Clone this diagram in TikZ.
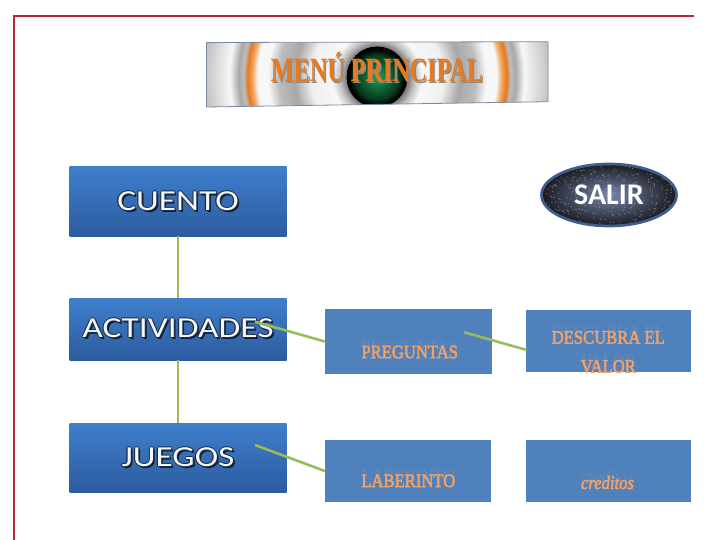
\documentclass[tikz,border=0pt]{standalone}
\usepackage{fontspec}
\usepackage{graphicx}
\usetikzlibrary{shapes.geometric,calc}
\setmainfont{Liberation Serif}
\newfontfamily\boxfont{Carlito}
\newfontfamily\orfont{Liberation Serif}

\definecolor{frameRed}{HTML}{B42A33}
\definecolor{linkGreen}{HTML}{9BBB59}
\definecolor{boxTop}{HTML}{3F7ECC}
\definecolor{boxBot}{HTML}{2C5C9F}
\definecolor{flatBlue}{HTML}{4F81BD}
\definecolor{orangeTxt}{HTML}{F2A168}
\definecolor{ghostTxt}{HTML}{6D87AC}
\definecolor{glowC}{HTML}{F2F7FC}
\definecolor{outlC}{HTML}{1C2B40}
\definecolor{shadowC}{HTML}{14202F}
\definecolor{menuOrange}{HTML}{E8791F}
\definecolor{menuShadow}{HTML}{8C8C8C}
\definecolor{bannerEdge}{HTML}{7A8AA5}
\definecolor{salirEdge}{HTML}{3E5F8E}
\definecolor{salirIn}{HTML}{7686AC}
\definecolor{salirOut}{HTML}{1A1A1F}
\definecolor{speckC}{HTML}{9A9AA0}
\definecolor{rgW}{gray}{0.97}
\definecolor{rgWb}{gray}{0.94}
\definecolor{rgS}{gray}{0.5}
\definecolor{rgT}{gray}{0.75}
\definecolor{rgG}{gray}{0.66}
\definecolor{rgH}{gray}{0.74}
\definecolor{rgE}{gray}{0.64}
\definecolor{ringLt}{HTML}{F2A862}
\definecolor{ringOr}{HTML}{E8781E}
\definecolor{sphA}{HTML}{26A555}
\definecolor{sphB}{HTML}{10703A}
\definecolor{sphC}{HTML}{073A1C}

% radii in bp = picture pixels
\pgfdeclareradialshading{bannerrings}{\pgfpoint{0bp}{0bp}}{%
color(0bp)=(rgW); color(29bp)=(rgS); color(31bp)=(rgS); color(37bp)=(rgT);
color(45bp)=(rgW); color(66bp)=(rgWb); color(82bp)=(rgG); color(98bp)=(rgH);
color(109bp)=(rgW); color(119bp)=(rgW); color(124bp)=(ringLt); color(129bp)=(ringOr);
color(133bp)=(rgH); color(138bp)=(rgG); color(147bp)=(rgW); color(174bp)=(rgH);
color(210bp)=(rgE)}
\pgfdeclareradialshading{spherefill}{\pgfpoint{0bp}{0bp}}{%
color(0bp)=(sphA); color(10bp)=(sphB); color(22bp)=(sphC); color(28bp)=(black);
color(31bp)=(black)}

% white letters with a dark outline and a drop shadow
\newcommand\glowtext[1]{\scalebox{1.22}[1]{\leavevmode
 \rlap{\kern1.5pt\raisebox{-1.8pt}{\textcolor{shadowC}{#1}}}%
 \rlap{\kern0.9pt\textcolor{outlC}{#1}}%
 \rlap{\kern-0.9pt\textcolor{outlC}{#1}}%
 \rlap{\raisebox{0.9pt}{\textcolor{outlC}{#1}}}%
 \rlap{\raisebox{-0.9pt}{\textcolor{outlC}{#1}}}%
 \textcolor{glowC}{#1}}}
% orange text, slightly emboldened, with its faint ghost above it
\newcommand\ortext[1]{\scalebox{0.875}[1]{\leavevmode
  \rlap{\raisebox{5pt}{\textcolor{ghostTxt}{#1}}}%
  \textcolor{orangeTxt}{\special{pdf:literal direct 2 Tr 0.5 w 0.949 0.631 0.408 RG}#1\special{pdf:literal direct 0 Tr}}}}

\tikzset{
  frameline/.style={draw=frameRed, line width=1.5pt},
  link/.style={draw=linkGreen, line width=2.6pt},
  leftbox/.style={rectangle, inner sep=0pt, top color=boxTop, bottom color=boxBot,
     minimum width=217pt, font=\boxfont\fontsize{29pt}{35pt}\selectfont},
  flatbox/.style={rectangle, inner sep=0pt, fill=flatBlue, minimum width=166pt, minimum height=63pt},
  ortxt/.style={inner sep=0pt, font=\orfont\fontsize{19pt}{29pt}\selectfont, align=center},
}

\begin{document}
\begin{tikzpicture}[x=1pt,y=-1pt]
\useasboundingbox (0,0) rectangle (720,540);
\fill[white] (0,0) rectangle (720,540);

% frame
\draw[frameline] (694,16) -- (14,16) -- (14,540);

% banner
\begin{scope}
  \clip (206.5,42.5) -- (548,41.7) -- (548,101.7) -- (206.5,107) -- cycle;
  \node[inner sep=0pt, outer sep=0pt] (rings) at (377,77) {\pgfuseshading{bannerrings}};
  \clip (377,77) circle (30.5pt);
  \node[inner sep=0pt, outer sep=0pt] (sphere) at (377,77) {\pgfuseshading{spherefill}};
\end{scope}
\draw[bannerEdge, line width=0.8pt] (206.5,42.5) -- (548,41.7) -- (548,101.7) -- (206.5,107) -- cycle;
\node[inner sep=0pt, font=\orfont\bfseries\fontsize{34pt}{40pt}\selectfont] (menu) at (377,68)
  {\scalebox{0.71}[1]{\leavevmode\rlap{\kern1.8pt\raisebox{-1.8pt}{\textcolor{menuShadow}{MENÚ PRINCIPAL}}}\textcolor{menuOrange}{MENÚ PRINCIPAL}}};

% left column
\node[leftbox, minimum height=69pt] (cuento) at (178,201.5) {\glowtext{CUENTO}};
\node[leftbox, minimum height=62pt] (act) at (178,329) {\glowtext{ACTIVIDADES}};
\node[leftbox, minimum height=69pt] (juegos) at (178,457.5) {\glowtext{JUEGOS}};

% right boxes
\node[flatbox, minimum height=65pt, minimum width=167pt] (preg) at (408.5,341.5) {};
\node[flatbox, minimum height=62pt, minimum width=165pt] (desc) at (608.5,341) {};
\node[flatbox, minimum height=62pt] (lab) at (408,471) {};
\node[flatbox, minimum height=62pt, minimum width=165pt] (cred) at (608.5,471) {};

% SALIR ellipse
\node[ellipse, inner sep=0pt, minimum width=135pt, minimum height=62pt,
      draw=salirEdge, line width=2.7pt, inner color=salirIn, outer color=salirOut,
      path picture={
        \pgfmathsetseed{7}
        \foreach \i in {1,...,420}{
          \fill[speckC, opacity=0.75] ($(path picture bounding box.center)+({67*rand},{31*rand})$) circle (0.6pt);
        }
      },
      font=\boxfont\bfseries\fontsize{30pt}{36pt}\selectfont, text=white] (salir) at (609,195) {SALIR};

% connectors
\coordinate (actOut) at (255,321.7);
\coordinate (jueOut) at (255,445);
\coordinate (pregOut) at (464.3,332.3);
\coordinate (descIn) at (526.7,350);
\draw[link] (cuento.south) -- (act.north);
\draw[link] (act.south) -- (juegos.north);
\draw[link] (actOut) -- (preg.west);
\draw[link] (jueOut) -- (lab.west);
\draw[link] (pregOut) -- (descIn);

% right labels
\node[ortxt] (pregT) at (409.7,349.5) {\ortext{PREGUNTAS}};
\node[ortxt] (descT) at (608.3,349.5) {\ortext{DESCUBRA EL}\\\ortext{VALOR}};
\node[ortxt] (labT) at (408.3,478.3) {\ortext{LABERINTO}};
\node[ortxt] (credT) at (607.5,480) {\ortext{\itshape creditos}};
\end{tikzpicture}
\end{document}
